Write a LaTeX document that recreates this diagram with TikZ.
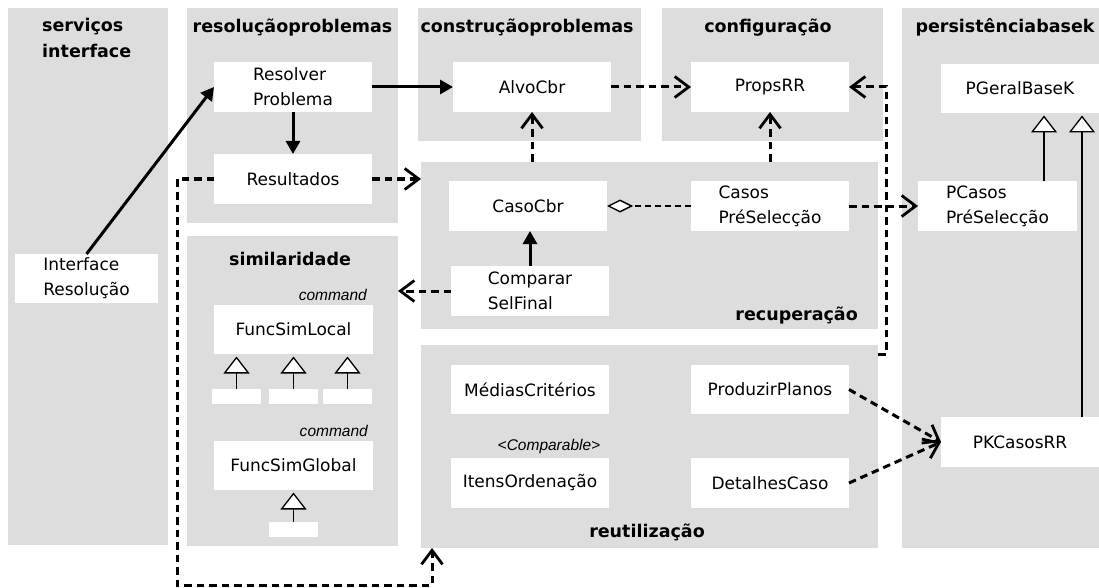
\documentclass[tikz,border=0pt]{standalone}
\usepackage{fontspec}
\setmainfont{DejaVu Sans}
\newfontfamily\notefont{Liberation Sans}
\usetikzlibrary{arrows.meta}
\definecolor{panelgray}{RGB}{221,221,221}

\begin{document}
\begin{tikzpicture}[x=1pt,y=-1pt,
  pkgpanel/.style={fill=panelgray, inner sep=0pt, outer sep=0pt, anchor=north west},
  classbox/.style={fill=white, inner sep=0pt, outer sep=0pt, anchor=north west,
    minimum width=158pt, minimum height=50pt, align=left,
    font=\fontsize{17}{25}\selectfont},
  stubbox/.style={fill=white, inner sep=0pt, outer sep=0pt, anchor=north west,
    minimum width=49pt, minimum height=15pt},
  pkgtitle/.style={inner sep=0pt, font=\bfseries\fontsize{17.5}{21}\selectfont},
  stereo/.style={inner sep=0pt, font=\notefont\itshape\fontsize{15.5}{18}\selectfont},
  callarrow/.style={line width=3pt, -{Triangle[length=13pt,width=14pt]}},
  deparrow/.style={line width=3pt, dash pattern=on 7.5pt off 5pt,
    -{Straight Barb[length=14pt,width=21pt,line width=2.8pt]}},
  aggarrow/.style={line width=2.2pt, dash pattern=on 6pt off 4pt,
    -{Diamond[length=26pt,width=13pt,fill=white,line width=1.4pt]}},
  genarrow/.style={line width=1.4pt, shorten >=2.5pt,
    -{Triangle[length=17pt,width=26pt,fill=white,line width=1.3pt]}},
]
\useasboundingbox (0,0) rectangle (1099,588);

% packages
\node[pkgpanel, minimum width=160pt, minimum height=537pt] (svc) at (8,8) {};
\node[pkgpanel, minimum width=211pt, minimum height=215pt] (resol) at (187,8) {};
\node[pkgpanel, minimum width=223pt, minimum height=133pt] (constr) at (418,8) {};
\node[pkgpanel, minimum width=221pt, minimum height=133pt] (config) at (662,8) {};
\node[pkgpanel, minimum width=197pt, minimum height=540pt] (persist) at (902,8) {};
\node[pkgpanel, minimum width=457pt, minimum height=167pt] (recup) at (421,162) {};
\node[pkgpanel, minimum width=211pt, minimum height=310pt] (simil) at (187,236) {};
\node[pkgpanel, minimum width=457pt, minimum height=203pt] (reutil) at (421,345) {};

% package names
\node[pkgtitle, anchor=base west] (tsvcA) at (42,32) {serviços};
\node[pkgtitle, anchor=base west] (tsvcB) at (42,58) {interface};
\node[pkgtitle, anchor=base] (tresol) at (292.5,33) {resoluçãoproblemas};
\node[pkgtitle, anchor=base] (tconstr) at (527,33) {construçãoproblemas};
\node[pkgtitle, anchor=base] (tconfig) at (768,33) {configuração};
\node[pkgtitle, anchor=base] (tpersist) at (1005,33) {persistênciabasek};
\node[pkgtitle, anchor=base] (tsimil) at (290,265) {similaridade};
\node[pkgtitle, anchor=base east] (trecup) at (858,320) {recuperação};
\node[pkgtitle, anchor=base] (treutil) at (647,537) {reutilização};

% classes
\node[classbox, minimum width=143pt, minimum height=49pt] (iface) at (15,254) {Interface\\Resolução};
\node[classbox] (resolver) at (214,62) {Resolver\\Problema};
\node[classbox] (result) at (214,154) {Resultados};
\node[classbox] (alvo) at (453,62) {AlvoCbr};
\node[classbox] (props) at (691,62) {PropsRR};
\node[classbox, minimum height=49pt] (pgeral) at (941,64) {PGeralBaseK};
\node[classbox] (casocbr) at (449,181) {CasoCbr};
\node[classbox] (casos) at (691,181) {Casos\\PréSelecção};
\node[classbox, minimum width=159pt] (pcasos) at (918,181) {PCasos\\PréSelecção};
\node[classbox] (compar) at (451,266) {Comparar\\SelFinal};
\node[classbox, minimum height=49pt] (medias) at (451,365) {MédiasCritérios};
\node[classbox] (itens) at (451,458) {ItensOrdenação};
\node[classbox, minimum height=49pt] (produzir) at (691,365) {ProduzirPlanos};
\node[classbox] (detalhes) at (691,458) {DetalhesCaso};
\node[classbox] (pkcasos) at (941,417) {PKCasosRR};
\node[classbox, minimum width=159pt, minimum height=49pt] (flocal) at (214,305) {FuncSimLocal};
\node[classbox, minimum width=159pt, minimum height=49pt] (fglobal) at (214,441) {FuncSimGlobal};
\node[stubbox] (subA) at (212,389) {};
\node[stubbox] (subB) at (269,389) {};
\node[stubbox] (subC) at (323,389) {};
\node[stubbox] (subD) at (269,522) {};

% stereotypes
\node[stereo, anchor=base east] (cmdA) at (367,300) {command};
\node[stereo, anchor=base east] (cmdB) at (368,436) {command};
\node[stereo, anchor=base] (cmpbl) at (549,450) {<Comparable>};

% helper points for bent connectors
\coordinate (reutilTap) at (878,354);
\coordinate (loopCorner) at (177,585);
\coordinate (reutilIn) at (432,548);

% calls
\draw[callarrow] (iface.north) -- (resolver.west);
\draw[callarrow] (resolver.east) -- (alvo.west);
\draw[callarrow] (resolver.south) -- (result.north);
\draw[callarrow] (compar.north) -- (compar.north |- casocbr.south);

% dependencies
\draw[deparrow] (result.east) -- (result.east -| recup.west);
\draw[deparrow] (alvo.east) -- (props.west);
\draw[deparrow] (alvo.south |- recup.north) -- (alvo.south);
\draw[deparrow] (props.south |- recup.north) -- (props.south);
\draw[deparrow] (compar.west) -- (compar.west -| simil.east);
\draw[deparrow] (casos.east) -- (pcasos.west);
\draw[deparrow] (produzir.east) -- (pkcasos.west);
\draw[deparrow] (detalhes.east) -- (pkcasos.west);
\draw[deparrow] (reutilTap) -- ++(8,0) |- (props.east);
\draw[deparrow] (result.west) -| (loopCorner) -| (reutilIn);

% aggregation
\draw[aggarrow] (casos.west) -- (casocbr.east);

% generalisations
\draw[genarrow] ([xshift=24pt]pgeral.south |- pcasos.north) -- ([xshift=24pt]pgeral.south);
\draw[genarrow] ([xshift=62pt]pkcasos.north) -- ([xshift=62pt]pgeral.south);
\draw[genarrow] (subA.north) -- (subA.north |- flocal.south);
\draw[genarrow] (subB.north) -- (subB.north |- flocal.south);
\draw[genarrow] (subC.north) -- (subC.north |- flocal.south);
\draw[genarrow] (subD.north) -- (subD.north |- fglobal.south);
\end{tikzpicture}
\end{document}
